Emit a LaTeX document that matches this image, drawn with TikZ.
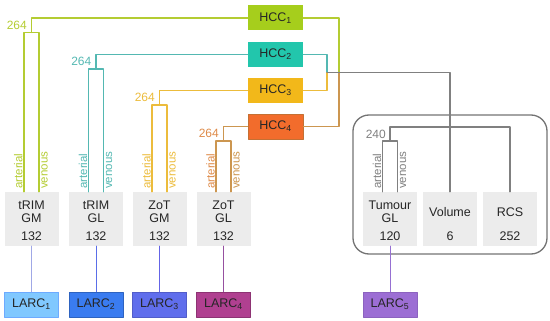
\documentclass[tikz,border=0pt]{standalone}
\usepackage{fontspec}
\setmainfont{Liberation Sans}

\definecolor{hccA}{RGB}{166,206,28}
\definecolor{hccB}{RGB}{34,198,172}
\definecolor{hccC}{RGB}{242,184,26}
\definecolor{hccD}{RGB}{242,108,44}
\definecolor{hccDedge}{RGB}{196,112,52}
\definecolor{lnA}{RGB}{180,204,50}
\definecolor{lnB}{RGB}{84,184,178}
\definecolor{lnC}{RGB}{236,188,60}
\definecolor{lnD}{RGB}{204,150,80}
\definecolor{labD}{RGB}{222,138,72}
\definecolor{lnG}{RGB}{128,128,128}
\definecolor{featgrey}{RGB}{236,236,236}
\definecolor{larcA}{RGB}{128,200,255}
\definecolor{larcB}{RGB}{58,124,240}
\definecolor{larcC}{RGB}{96,110,236}
\definecolor{larcD}{RGB}{176,64,144}
\definecolor{larcE}{RGB}{156,110,212}
\definecolor{linkA}{RGB}{160,168,230}
\definecolor{linkB}{RGB}{90,110,232}
\definecolor{linkC}{RGB}{100,100,230}
\definecolor{linkD}{RGB}{150,80,160}
\definecolor{linkE}{RGB}{150,112,210}

\tikzset{
  hcc/.style={minimum width=55pt,minimum height=25pt,inner sep=0pt,
    font=\fontsize{12.5}{14}\selectfont,text=black!85},
  larc/.style={minimum width=54pt,minimum height=25pt,inner sep=0pt,
    line width=0.8pt,font=\fontsize{12.5}{14}\selectfont,text=black!85},
  feat/.style={fill=featgrey,minimum width=54pt,minimum height=54pt,inner sep=0pt},
  ftxt/.style={inner sep=0pt,align=center,text=black!85,
    font=\fontsize{12.5}{13.5}\selectfont},
  hnum/.style={inner sep=0pt,anchor=east,font=\fontsize{12}{14}\selectfont},
  art/.style={inner sep=0pt,rotate=90,anchor=base west,font=\fontsize{11.5}{13}\selectfont},
  wire/.style={line width=1.2pt},
  link/.style={line width=1pt},
}

\begin{document}
\begin{tikzpicture}[x=1pt,y=-1pt,line cap=round,line join=round]
  \useasboundingbox (0,0) rectangle (550,321);

  % HCC clusters
  \node[hcc,fill=hccA] (hcc1) at (275.5,18) {HCC\textsubscript{1}};
  \node[hcc,fill=hccB] (hcc2) at (275.5,54.5) {HCC\textsubscript{2}};
  \node[hcc,fill=hccC] (hcc3) at (275.5,90.5) {HCC\textsubscript{3}};
  \node[hcc,fill=hccD,draw=hccDedge,line width=0.8pt] (hcc4) at (275.5,126.5) {HCC\textsubscript{4}};

  % Group frame
  \draw[draw=lnG!90!black,line width=1.3pt,rounded corners=16pt] (353,115) rectangle (547,254);

  % Feature boxes
  \node[feat] (trimgm) at (31.5,219) {};
  \node[ftxt] (trimgm-l) at (31.5,212) {tRIM\\GM};
  \node[ftxt] (trimgm-n) at (31.5,236) {132};
  \node[feat] (trimgl) at (96,219) {};
  \node[ftxt] (trimgl-l) at (96,212) {tRIM\\GL};
  \node[ftxt] (trimgl-n) at (96,236) {132};
  \node[feat] (zotgm) at (159.5,219) {};
  \node[ftxt] (zotgm-l) at (159.5,212) {ZoT\\GM};
  \node[ftxt] (zotgm-n) at (159.5,236) {132};
  \node[feat] (zotgl) at (223.5,219) {};
  \node[ftxt] (zotgl-l) at (223.5,212) {ZoT\\GL};
  \node[ftxt] (zotgl-n) at (223.5,236) {132};
  \node[feat] (tumour) at (390,219) {};
  \node[ftxt] (tumour-l) at (390,212) {Tumour\\GL};
  \node[ftxt] (tumour-n) at (390,236) {120};
  \node[feat] (volume) at (450,219) {};
  \node[ftxt] (volume-l) at (450,212) {Volume};
  \node[ftxt] (volume-n) at (450,236) {6};
  \node[feat] (rcs) at (510,219) {};
  \node[ftxt] (rcs-l) at (510,212) {RCS};
  \node[ftxt] (rcs-n) at (510,236) {252};

  % LARC clusters
  \node[larc,fill=larcA,draw=larcA!85!blue] (larc1) at (31.5,304.5) {LARC\textsubscript{1}};
  \node[larc,fill=larcB,draw=larcB!80!black] (larc2) at (96,304.5) {LARC\textsubscript{2}};
  \node[larc,fill=larcC,draw=larcC!85!black] (larc3) at (159.5,304.5) {LARC\textsubscript{3}};
  \node[larc,fill=larcD,draw=larcD!80!black] (larc4) at (223.5,304.5) {LARC\textsubscript{4}};
  \node[larc,fill=larcE,draw=larcE!90!black] (larc5) at (390,304.5) {LARC\textsubscript{5}};

  \draw[link,draw=linkA] (trimgm.south) -- (larc1.north);
  \draw[link,draw=linkB] (trimgl.south) -- (larc2.north);
  \draw[link,draw=linkC] (zotgm.south) -- (larc3.north);
  \draw[link,draw=linkD] (zotgl.south) -- (larc4.north);
  \draw[link,draw=linkE] (tumour.south) -- (larc5.north);

  % HCC merges
  \coordinate (m14) at (339,72.25);
  \coordinate (m23) at (327,72.5);
  \draw[wire,draw=lnA] (hcc1.east) -| (m14);
  \draw[wire,draw=lnD] (hcc4.east) -| (m14);
  \draw[wire,draw=lnB] (hcc2.east) -| (m23);
  \draw[wire,draw=lnC] (hcc3.east) -| (m23);
  \draw[wire,draw=lnG] (m23) -| (volume.north);

  % tRIM GM
  \coordinate (tgmJ) at (31.5,32.5);
  \coordinate (tgmA) at (24,32.5);
  \coordinate (tgmV) at (39,32.5);
  \draw[wire,draw=lnA] (hcc1.west) -| (tgmJ);
  \draw[wire,draw=lnA] (tgmA |- trimgm.north) -- (tgmA) -- (tgmV) -- (tgmV |- trimgm.north);
  \node[hnum,text=lnA] (tgm264) at (27,25) {264};
  \node[art,text=lnA] (tgmArt) at (22.5,189) {arterial};
  \node[art,text=lnA] (tgmVen) at (47.5,189) {venous};

  % tRIM GL
  \coordinate (tglJ) at (96,69);
  \coordinate (tglA) at (88.5,69);
  \coordinate (tglV) at (103.5,69);
  \draw[wire,draw=lnB] (hcc2.west) -| (tglJ);
  \draw[wire,draw=lnB] (tglA |- trimgl.north) -- (tglA) -- (tglV) -- (tglV |- trimgl.north);
  \node[hnum,text=lnB] (tgl264) at (91.5,61.5) {264};
  \node[art,text=lnB] (tglArt) at (87,189) {arterial};
  \node[art,text=lnB] (tglVen) at (112,189) {venous};

  % ZoT GM
  \coordinate (zgmJ) at (159.5,105);
  \coordinate (zgmA) at (152,105);
  \coordinate (zgmV) at (167,105);
  \draw[wire,draw=lnC] (hcc3.west) -| (zgmJ);
  \draw[wire,draw=lnC] (zgmA |- zotgm.north) -- (zgmA) -- (zgmV) -- (zgmV |- zotgm.north);
  \node[hnum,text=lnC] (zgm264) at (155,97.5) {264};
  \node[art,text=lnC] (zgmArt) at (150.5,189) {arterial};
  \node[art,text=lnC] (zgmVen) at (175.5,189) {venous};

  % ZoT GL
  \coordinate (zglJ) at (223.5,141);
  \coordinate (zglA) at (216,141);
  \coordinate (zglV) at (231,141);
  \draw[wire,draw=lnD] (hcc4.west) -| (zglJ);
  \draw[wire,draw=lnD] (zglA |- zotgl.north) -- (zglA) -- (zglV) -- (zglV |- zotgl.north);
  \node[hnum,text=labD] (zgl264) at (219,133.5) {264};
  \node[art,text=labD] (zglArt) at (214.5,189) {arterial};
  \node[art,text=lnD] (zglVen) at (239.5,189) {venous};

  % Tumour GL
  \coordinate (tumT) at (390,127);
  \coordinate (tumJ) at (390,141);
  \coordinate (tumA) at (382.5,141);
  \coordinate (tumV) at (397.5,141);
  \draw[wire,draw=lnG] (rcs.north) |- (tumT) -- (tumJ);
  \draw[wire,draw=lnG] (tumA |- tumour.north) -- (tumA) -- (tumV) -- (tumV |- tumour.north);
  \node[hnum,text=lnG] (tum240) at (386,134) {240};
  \node[art,text=lnG] (tumArt) at (381,189) {arterial};
  \node[art,text=lnG] (tumVen) at (406,189) {venous};
\end{tikzpicture}
\end{document}
